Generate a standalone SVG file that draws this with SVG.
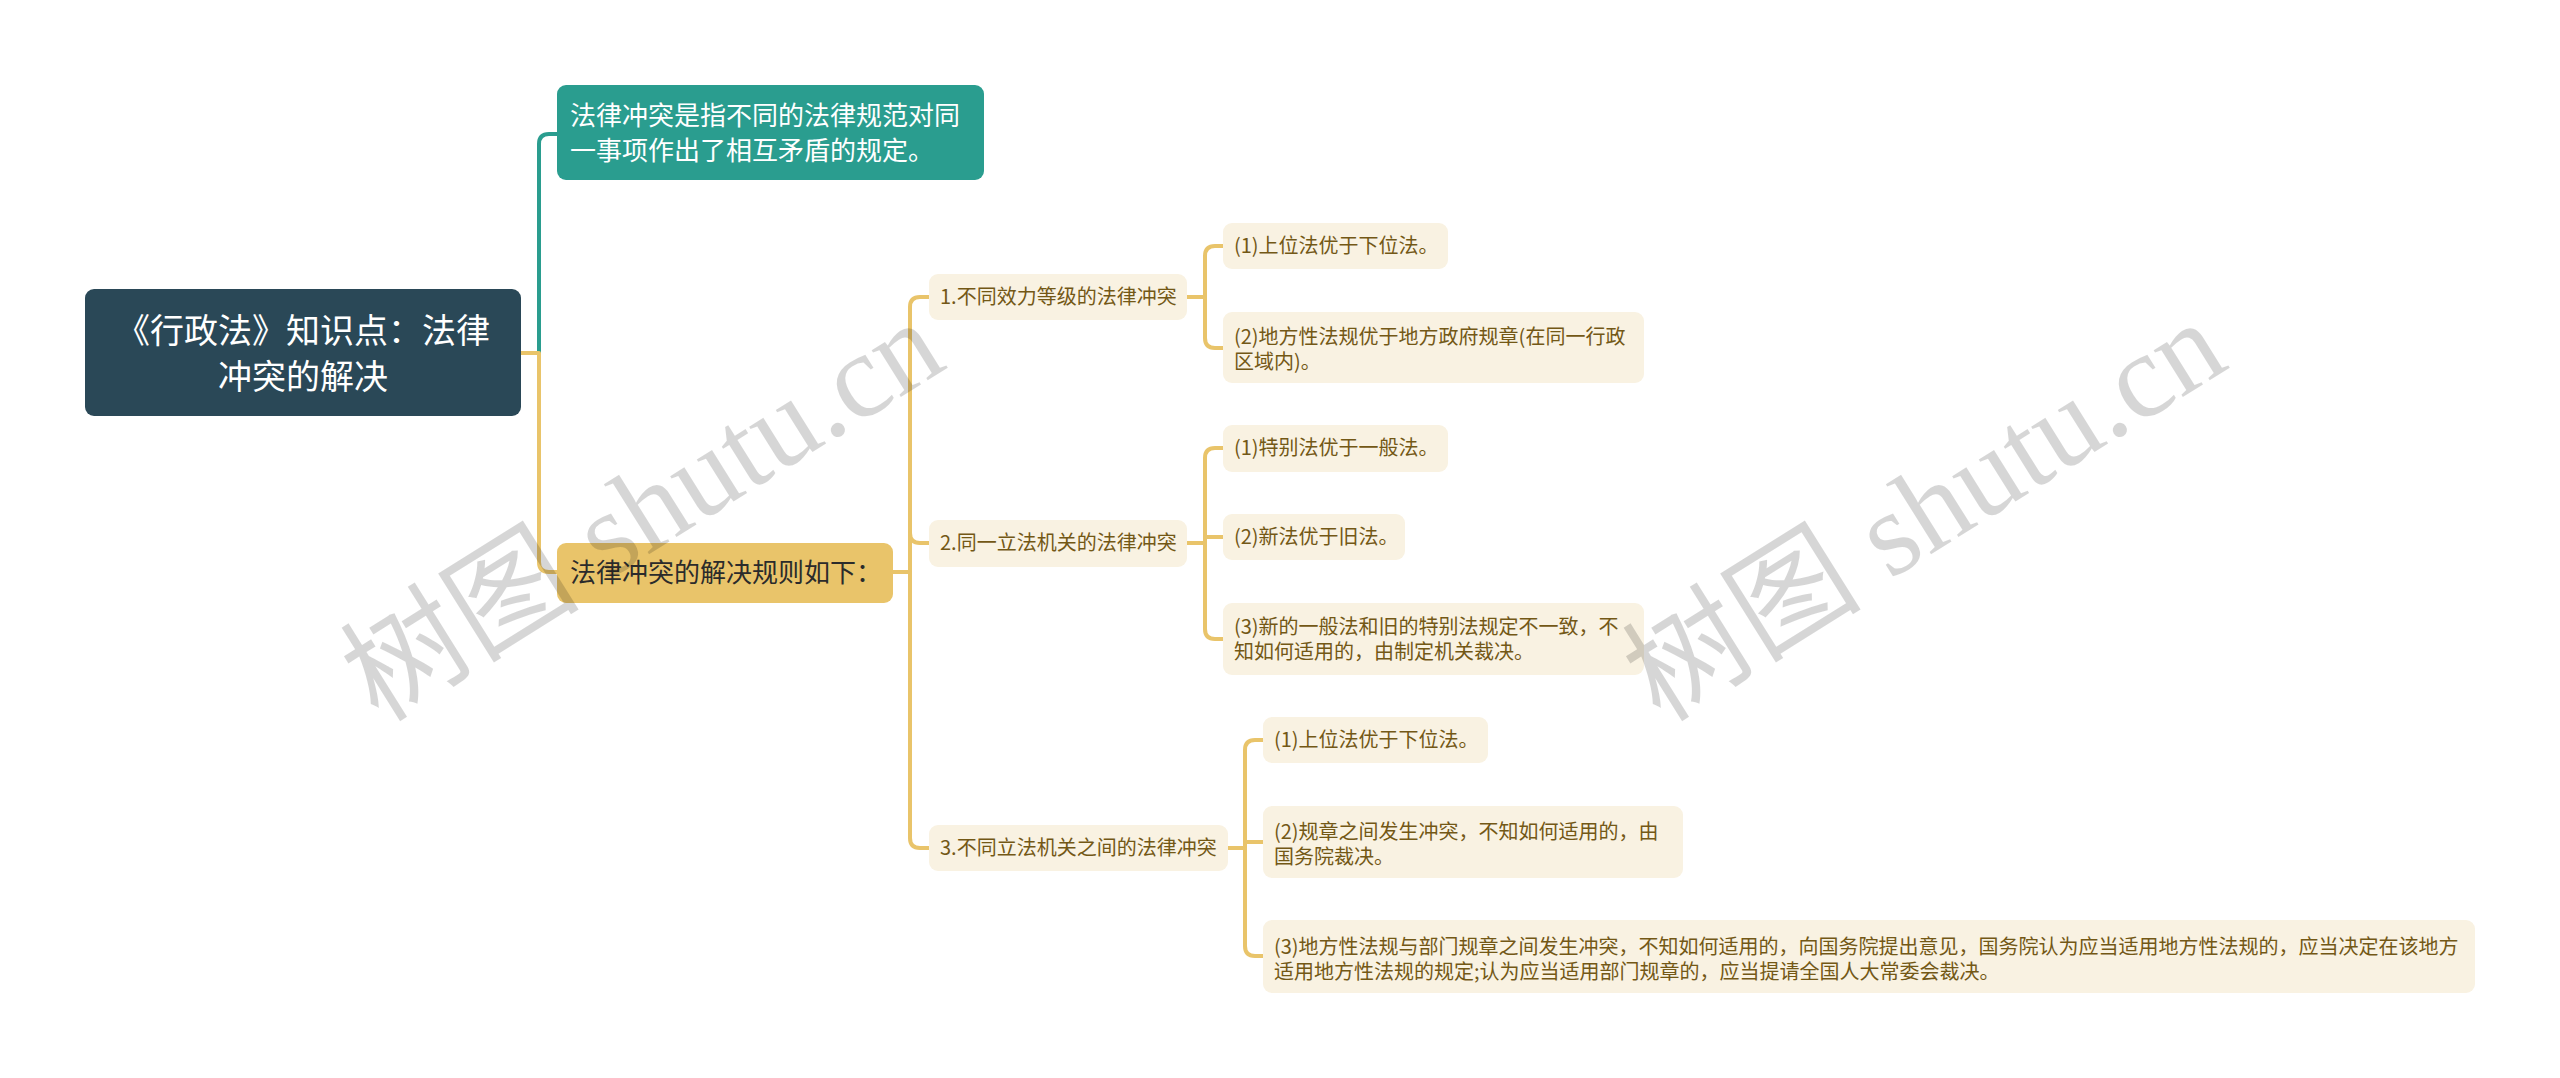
<svg xmlns="http://www.w3.org/2000/svg" width="2560" height="1078" viewBox="0 0 2560 1078">
<style>
text{font-family:"Noto Sans CJK SC","Noto Sans",sans-serif;}
.root{fill:#2a4857;}
.teal{fill:#2a9d8f;}
.yel{fill:#e9c46a;}
.cream{fill:#f9f2e2;}
.tw{fill:#ffffff;}
.td{fill:#2b2b2b;font-size:26px;}
.tb{fill:#735816;font-size:20px;}
.ln{fill:none;stroke:#e9c46a;stroke-width:4;stroke-linecap:round;stroke-linejoin:round;}
.lt{fill:none;stroke:#2a9d8f;stroke-width:4;stroke-linecap:round;stroke-linejoin:round;}
.wm{font-family:"Liberation Serif","Noto Sans CJK SC",serif;font-size:120px;fill:#000;fill-opacity:0.16;}
</style>
<rect width="2560" height="1078" fill="#ffffff"/>
<g id="connectors">
<path class="lt" d="M539,353 V144 Q539,134 549,134 H557"/>
<path class="ln" d="M521,353 H539 V562 Q539,572 549,572 H557"/>
<path class="ln" d="M893,572 H910 V307 Q910,297 920,297 H929"/>
<path class="ln" d="M910,572 V533 Q910,543 920,543 H929"/>
<path class="ln" d="M910,572 V838 Q910,848 920,848 H929"/>
<path class="ln" d="M1187,297 H1205 V256 Q1205,246 1215,246 H1223"/>
<path class="ln" d="M1205,297 V338 Q1205,348 1215,348 H1223"/>
<path class="ln" d="M1187,543 H1205 V458 Q1205,448 1215,448 H1223"/>
<path class="ln" d="M1205,543 V537 H1223"/>
<path class="ln" d="M1205,543 V629 Q1205,639 1215,639 H1223"/>
<path class="ln" d="M1228,848 H1245 V750 Q1245,740 1255,740 H1263"/>
<path class="ln" d="M1245,848 V842 H1263"/>
<path class="ln" d="M1245,848 V946 Q1245,956 1255,956 H1263"/>
</g>
<g id="root">
<rect class="root" x="85" y="289" width="436" height="127" rx="9"/>
<text class="tw" font-size="34" text-anchor="middle" x="303" y="343">《行政法》知识点：法律</text>
<text class="tw" font-size="34" text-anchor="middle" x="303" y="389">冲突的解决</text>
</g>
<g id="n-def">
<rect class="teal" x="557" y="85" width="427" height="95" rx="9"/>
<text class="tw" font-size="26" x="570" y="125">法律冲突是指不同的法律规范对同</text>
<text class="tw" font-size="26" x="570" y="160">一事项作出了相互矛盾的规定。</text>
</g>
<g id="n-rules">
<rect class="yel" x="557" y="543" width="336" height="60" rx="9"/>
<text class="td" x="570" y="582">法律冲突的解决规则如下：</text>
</g>
<g id="n1">
<rect class="cream" x="929" y="274" width="258" height="46" rx="9"/>
<text class="tb" x="940" y="304">1.不同效力等级的法律冲突</text>
</g>
<g id="n1a">
<rect class="cream" x="1223" y="223" width="225" height="46" rx="9"/>
<text class="tb" x="1234" y="253">(1)上位法优于下位法。</text>
</g>
<g id="n1b">
<rect class="cream" x="1223" y="312" width="421" height="71" rx="9"/>
<text class="tb" x="1234" y="344">(2)地方性法规优于地方政府规章(在同一行政</text>
<text class="tb" x="1234" y="369">区域内)。</text>
</g>
<g id="n2">
<rect class="cream" x="929" y="520" width="258" height="47" rx="9"/>
<text class="tb" x="940" y="550">2.同一立法机关的法律冲突</text>
</g>
<g id="n2a">
<rect class="cream" x="1223" y="425" width="225" height="47" rx="9"/>
<text class="tb" x="1234" y="455">(1)特别法优于一般法。</text>
</g>
<g id="n2b">
<rect class="cream" x="1223" y="514" width="182" height="46" rx="9"/>
<text class="tb" x="1234" y="544">(2)新法优于旧法。</text>
</g>
<g id="n2c">
<rect class="cream" x="1223" y="603" width="421" height="72" rx="9"/>
<text class="tb" x="1234" y="634">(3)新的一般法和旧的特别法规定不一致，不</text>
<text class="tb" x="1234" y="659">知如何适用的，由制定机关裁决。</text>
</g>
<g id="n3">
<rect class="cream" x="929" y="825" width="299" height="46" rx="9"/>
<text class="tb" x="940" y="855">3.不同立法机关之间的法律冲突</text>
</g>
<g id="n3a">
<rect class="cream" x="1263" y="717" width="225" height="46" rx="9"/>
<text class="tb" x="1274" y="747">(1)上位法优于下位法。</text>
</g>
<g id="n3b">
<rect class="cream" x="1263" y="806" width="420" height="72" rx="9"/>
<text class="tb" x="1274" y="839">(2)规章之间发生冲突，不知如何适用的，由</text>
<text class="tb" x="1274" y="864">国务院裁决。</text>
</g>
<g id="n3c">
<rect class="cream" x="1263" y="920" width="1212" height="73" rx="9"/>
<text class="tb" x="1274" y="954">(3)地方性法规与部门规章之间发生冲突，不知如何适用的，向国务院提出意见，国务院认为应当适用地方性法规的，应当决定在该地方</text>
<text class="tb" x="1274" y="979">适用地方性法规的规定;认为应当适用部门规章的，应当提请全国人大常委会裁决。</text>
</g>
<g id="watermark">
<text class="wm" text-anchor="middle" transform="translate(664,545) rotate(-32)">树图 shutu.cn</text>
<text class="wm" text-anchor="middle" transform="translate(1946,545) rotate(-32)">树图 shutu.cn</text>
</g>
</svg>
